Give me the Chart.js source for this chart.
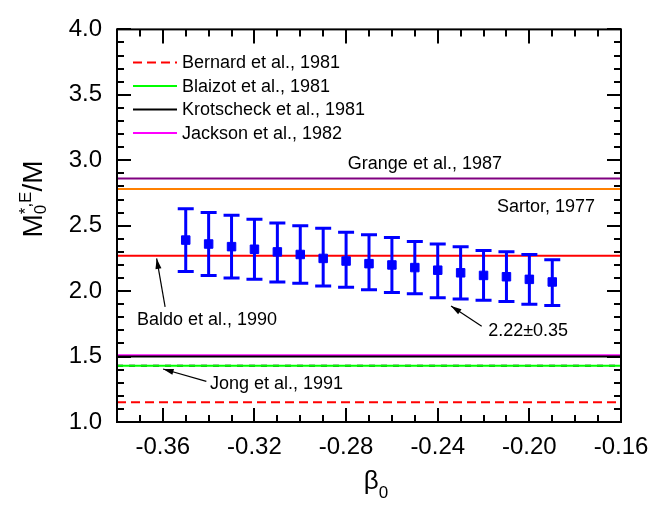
<!DOCTYPE html>
<html>
<head>
<meta charset="utf-8">
<script src="https://cdn.jsdelivr.net/npm/chart.js@4.4.1/dist/chart.umd.min.js"></script>
<style>
  html, body { margin: 0; padding: 0; background: #fff; }
  #wrap { width: 662px; height: 506px; }
</style>
</head>
<body>
<div id="wrap"><canvas id="chart"></canvas></div>
<script>
/* 有效質量 M0*,E/M 對 β0 */

var X_MIN = -0.38, X_MAX = -0.16, X_MINOR = 0.01;
var Y_MIN = 1.0,   Y_MAX = 4.0,   Y_MINOR = 0.1;
var X_TICKS = [-0.36, -0.32, -0.28, -0.24, -0.20, -0.16];
var Y_TICKS = [1.0, 1.5, 2.0, 2.5, 3.0, 3.5, 4.0];

var BETA   = [-0.35, -0.34, -0.33, -0.32, -0.31, -0.30, -0.29, -0.28, -0.27,
              -0.26, -0.25, -0.24, -0.23, -0.22, -0.21, -0.20, -0.19];
var MASS   = [2.39, 2.36, 2.34, 2.32, 2.30, 2.28, 2.25, 2.23, 2.21,
              2.20, 2.18, 2.16, 2.14, 2.12, 2.11, 2.09, 2.07];
var ERR_HI = [2.63, 2.60, 2.58, 2.55, 2.52, 2.50, 2.48, 2.45, 2.43,
              2.41, 2.38, 2.36, 2.34, 2.31, 2.30, 2.28, 2.24];
var ERR_LO = [2.15, 2.12, 2.10, 2.09, 2.07, 2.06, 2.04, 2.03, 2.01,
              1.99, 1.98, 1.95, 1.94, 1.93, 1.92, 1.90, 1.89];

// 參考值（水平線）
var REF_NAMES  = ['Bernard et al., 1981', 'Blaizot et al., 1981', 'Krotscheck et al., 1981',
                  'Jackson et al., 1982', 'Grange et al., 1987', 'Sartor, 1977',
                  'Baldo et al., 1990', 'Jong et al., 1991'];
var REF_VALUES = [1.15, 1.43, 1.50, 1.51, 2.86, 2.78, 2.27, 1.43];
var REF_COLORS = ['#ff0000', '#00ff00', '#000000', '#ff00ff', '#800080', '#ff8000', '#ff0000', '#000000'];
var REF_DASH   = [[9, 5], [], [], [], [], [], [], [6, 6]];
var LEGEND_COUNT = 4;

var FONT = 'Liberation Sans, Arial, Helvetica, sans-serif';
Chart.defaults.font.family = FONT;
Chart.defaults.color = '#000';

var refDatasets = REF_VALUES.map(function (v, i) {
  return {
    label:       REF_NAMES[i],
    data:        [{ x: X_MIN, y: v }, { x: X_MAX, y: v }],
    showLine:    true,
    borderColor: REF_COLORS[i],
    borderWidth: 2,
    borderDash:  REF_DASH[i],
    pointRadius: 0,
    order:       2,
  };
});

var pointDataset = {
  label: '2.22±0.35',
  data: BETA.map(function (b, i) { return { x: b, y: MASS[i] }; }),
  pointStyle:           'rect',
  pointRadius:          6,
  pointBackgroundColor: '#0000ff',
  pointBorderColor:     '#0000ff',
  pointBorderWidth:     1,
  showLine:             false,
  order:                1,
};

/* 誤差棒 */
var errorBars = {
  id: 'errorBars',
  afterDatasetsDraw: function (chart) {
    var ctx = chart.ctx, xs = chart.scales.x, ys = chart.scales.y;
    ctx.save();
    ctx.strokeStyle = '#0000ff';
    ctx.lineWidth = 3;
    BETA.forEach(function (b, i) {
      var px = xs.getPixelForValue(b);
      var top = ys.getPixelForValue(ERR_HI[i]);
      var bot = ys.getPixelForValue(ERR_LO[i]);
      ctx.beginPath();
      ctx.moveTo(px, top); ctx.lineTo(px, bot);
      ctx.moveTo(px - 8, top); ctx.lineTo(px + 8, top);
      ctx.moveTo(px - 8, bot); ctx.lineTo(px + 8, bot);
      ctx.stroke();
    });
    ctx.restore();
  },
};

/* 外框與內向刻度 */
var frameTicks = {
  id: 'frameTicks',
  afterDraw: function (chart) {
    var ctx = chart.ctx, a = chart.chartArea;
    var xs = chart.scales.x, ys = chart.scales.y;
    ctx.save();
    ctx.strokeStyle = '#000';
    ctx.lineWidth = 2;
    ctx.beginPath();
    var n = Math.round((X_MAX - X_MIN) / X_MINOR);
    for (var i = 0; i <= n; i++) {
      var v = X_MIN + i * X_MINOR;
      var major = X_TICKS.some(function (t) { return Math.abs(t - v) < 1e-6; });
      var len = major ? 14 : 7;
      var px = Math.round(xs.getPixelForValue(v));
      ctx.moveTo(px, a.bottom); ctx.lineTo(px, a.bottom - len);
      ctx.moveTo(px, a.top);    ctx.lineTo(px, a.top + len);
    }
    var m = Math.round((Y_MAX - Y_MIN) / Y_MINOR);
    for (var j = 0; j <= m; j++) {
      var w = Y_MIN + j * Y_MINOR;
      var majorY = Y_TICKS.some(function (t) { return Math.abs(t - w) < 1e-6; });
      var lenY = majorY ? 14 : 7;
      var py = Math.round(ys.getPixelForValue(w));
      ctx.moveTo(a.left, py);  ctx.lineTo(a.left + lenY, py);
      ctx.moveTo(a.right, py); ctx.lineTo(a.right - lenY, py);
    }
    ctx.stroke();
    ctx.strokeRect(a.left, a.top, a.right - a.left, a.bottom - a.top);
    ctx.restore();
  },
};

/* 圖例（左上角） */
var innerLegend = {
  id: 'innerLegend',
  afterDraw: function (chart) {
    var ctx = chart.ctx, a = chart.chartArea;
    ctx.save();
    ctx.font = '18px ' + FONT;
    ctx.textBaseline = 'middle';
    ctx.fillStyle = '#000';
    for (var i = 0; i < LEGEND_COUNT; i++) {
      var y = a.top + 33 + i * 23.5;
      ctx.strokeStyle = REF_COLORS[i];
      ctx.lineWidth = 2;
      ctx.setLineDash(REF_DASH[i]);
      ctx.beginPath();
      ctx.moveTo(a.left + 16, y); ctx.lineTo(a.left + 60, y);
      ctx.stroke();
      ctx.setLineDash([]);
      ctx.fillText(REF_NAMES[i], a.left + 65, y + 1);
    }
    ctx.restore();
  },
};

/* 文字標註與箭頭（資料座標） */
var NOTES = [
  { text: 'Grange et al., 1987', x: -0.2456, y: 2.97,  align: 'center' },
  { text: 'Sartor, 1977',        x: -0.1927, y: 2.645, align: 'center' },
  { text: 'Baldo et al., 1990',  x: -0.3713, y: 1.778, align: 'left' },
  { text: 'Jong et al., 1991',   x: -0.3394, y: 1.290, align: 'left' },
  { text: '2.22±0.35',           x: -0.2180, y: 1.696, align: 'left' },
];
var ARROWS = [
  { x1: -0.3590, y1: 1.880, x2: -0.3627, y2: 2.250 },
  { x1: -0.3410, y1: 1.310, x2: -0.3599, y2: 1.405 },
  { x1: -0.2208, y1: 1.731, x2: -0.2342, y2: 1.887 },
];

var notes = {
  id: 'notes',
  afterDraw: function (chart) {
    var ctx = chart.ctx, xs = chart.scales.x, ys = chart.scales.y;
    ctx.save();
    ctx.font = '18px ' + FONT;
    ctx.fillStyle = '#000';
    ctx.textBaseline = 'middle';
    NOTES.forEach(function (n) {
      ctx.textAlign = n.align;
      ctx.fillText(n.text, xs.getPixelForValue(n.x), ys.getPixelForValue(n.y));
    });
    ctx.strokeStyle = '#000';
    ctx.lineWidth = 1.2;
    ARROWS.forEach(function (r) {
      var x1 = xs.getPixelForValue(r.x1), y1 = ys.getPixelForValue(r.y1);
      var x2 = xs.getPixelForValue(r.x2), y2 = ys.getPixelForValue(r.y2);
      var ang = Math.atan2(y2 - y1, x2 - x1);
      ctx.beginPath();
      ctx.moveTo(x1, y1); ctx.lineTo(x2, y2);
      ctx.stroke();
      ctx.beginPath();
      ctx.moveTo(x2, y2);
      ctx.lineTo(x2 - 11 * Math.cos(ang - 0.28), y2 - 11 * Math.sin(ang - 0.28));
      ctx.lineTo(x2 - 11 * Math.cos(ang + 0.28), y2 - 11 * Math.sin(ang + 0.28));
      ctx.closePath();
      ctx.fill();
    });
    ctx.restore();
  },
};

/* 軸標題（含上下標） */
var axisTitles = {
  id: 'axisTitles',
  afterDraw: function (chart) {
    var ctx = chart.ctx, a = chart.chartArea;
    ctx.save();
    ctx.fillStyle = '#000';
    ctx.textBaseline = 'alphabetic';

    // x：β0
    var big = '26px ' + FONT, small = '17px ' + FONT;
    ctx.font = big;
    var wB = ctx.measureText('β').width;
    ctx.font = small;
    var w0 = ctx.measureText('0').width;
    var xStart = (a.left + a.right) / 2 + 7 - (wB + w0) / 2;
    ctx.font = big;
    ctx.fillText('β', xStart, 489);
    ctx.font = small;
    ctx.fillText('0', xStart + wB, 498);

    // y：M0*,E/M
    ctx.translate(42, 0);
    ctx.rotate(-Math.PI / 2);
    var yBig = '28px ' + FONT, ySmall = '17px ' + FONT;
    ctx.font = yBig;
    var wM = ctx.measureText('M').width, wR = ctx.measureText('/M').width;
    ctx.font = ySmall;
    var wS = Math.max(ctx.measureText('*,E').width, ctx.measureText('0').width);
    var total = wM + wS + wR;
    var s = -199 - total / 2;
    ctx.font = yBig;
    ctx.fillText('M', s, 0);
    ctx.font = ySmall;
    ctx.fillText('*,E', s + wM, -11);
    ctx.fillText('0', s + wM, 4);
    ctx.font = yBig;
    ctx.fillText('/M', s + wM + wS, 0);
    ctx.restore();
  },
};

new Chart(document.getElementById('chart'), {
  type: 'scatter',
  data: { datasets: refDatasets.concat([pointDataset]) },
  options: {
    responsive:          true,
    maintainAspectRatio: false,
    animation:           false,
    devicePixelRatio:    1,
    layout: { padding: { left: 0, top: 17, right: 41, bottom: 0 } },
    plugins: {
      legend:  { display: false },
      tooltip: { enabled: false },
    },
    scales: {
      x: {
        type: 'linear',
        min:  X_MIN,
        max:  X_MAX,
        afterBuildTicks: function (s) { s.ticks = X_TICKS.map(function (v) { return { value: v }; }); },
        afterFit: function (s) { s.height = 84; },
        ticks: {
          font: { size: 24 },
          color: '#000',
          padding: 11,
          maxRotation: 0,
          callback: function (v) { return v.toFixed(2); },
        },
        grid:   { display: false, drawTicks: false },
        border: { display: false },
      },
      y: {
        min: Y_MIN,
        max: Y_MAX,
        afterBuildTicks: function (s) { s.ticks = Y_TICKS.map(function (v) { return { value: v }; }); },
        afterFit: function (s) { s.width = 117; },
        ticks: {
          font: { size: 24 },
          color: '#000',
          padding: 15,
          callback: function (v) { return v.toFixed(1); },
        },
        grid:   { display: false, drawTicks: false },
        border: { display: false },
      },
    },
  },
  plugins: [errorBars, frameTicks, innerLegend, notes, axisTitles],
});
</script>
</body>
</html>
